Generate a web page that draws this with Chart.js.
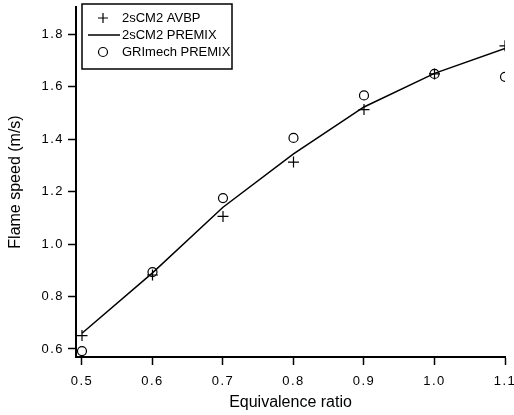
<!DOCTYPE html>
<html>
<head>
<meta charset="utf-8">
<script src="https://cdn.jsdelivr.net/npm/chart.js@4/dist/chart.umd.min.js"></script>
<style>
  html, body { margin: 0; padding: 0; background: #fff; }
  #wrap { width: 514px; height: 415px; }
</style>
</head>
<body>
<div id="wrap"><canvas id="flameChart"></canvas></div>
<script>
const equivRatio = [0.5, 0.6, 0.7, 0.8, 0.9, 1.0, 1.1];
const avbpSpeed = [0.651, 0.882, 1.105, 1.312, 1.512, 1.648, 1.755];
const premixSpeed = [0.66, 0.89, 1.14, 1.343, 1.522, 1.65, 1.745];
const grimechSpeed = [0.592, 0.893, 1.175, 1.404, 1.566, 1.648, 1.637];
const xTicks = [0.5, 0.6, 0.7, 0.8, 0.9, 1.0, 1.1];
const yTicks = [0.6, 0.8, 1.0, 1.2, 1.4, 1.6, 1.8];
const seriesLabels = ['2sCM2 AVBP', '2sCM2 PREMIX', 'GRImech PREMIX'];

const toPoints = (ys) => equivRatio.map((x, i) => ({ x: x, y: ys[i] }));
const FONT = "'Liberation Sans', Arial, sans-serif";

// the tick numbers of the original are set a bit wide (labels only, not titles)
const wideTicks = {
    id: 'wideTicks',
    beforeDraw: (chart) => {
        Object.values(chart.scales).forEach(s => {
            if (s._wide) return;
            const orig = s.drawLabels;
            s.drawLabels = function (area) {
                this.ctx.letterSpacing = '1.5px';
                orig.call(this, area);
                this.ctx.letterSpacing = '0px';
            };
            s._wide = true;
        });
    }
};

// legend box drawn in the top-left of the plot area
const boxLegend = {
    id: 'boxLegend',
    afterDraw: (chart) => {
        const { ctx, chartArea } = chart;
        const x0 = chartArea.left + 6, y0 = chartArea.top - 3;
        const w = 150, h = 65;
        ctx.save();
        ctx.fillStyle = '#fff';
        ctx.fillRect(x0, y0, w, h);
        ctx.strokeStyle = '#000';
        ctx.lineWidth = 1.5;
        ctx.strokeRect(x0, y0, w, h);
        ctx.font = '13px ' + FONT;
        ctx.fillStyle = '#000';
        ctx.textBaseline = 'middle';
        const rowY = [y0 + 14, y0 + 31, y0 + 48];
        const symX = x0 + 21;
        ctx.lineWidth = 1.2;
        // cross
        ctx.beginPath();
        ctx.moveTo(symX - 5, rowY[0]); ctx.lineTo(symX + 5, rowY[0]);
        ctx.moveTo(symX, rowY[0] - 5); ctx.lineTo(symX, rowY[0] + 5);
        ctx.stroke();
        // line
        ctx.lineWidth = 1.5;
        ctx.beginPath();
        ctx.moveTo(x0 + 6, rowY[1]); ctx.lineTo(x0 + 38, rowY[1]);
        ctx.stroke();
        // circle
        ctx.lineWidth = 1.2;
        ctx.beginPath();
        ctx.arc(symX, rowY[2], 4.5, 0, Math.PI * 2);
        ctx.stroke();
        seriesLabels.forEach((t, i) => ctx.fillText(t, x0 + 40, rowY[i]));
        ctx.restore();
    }
};

const ctx = document.getElementById('flameChart').getContext('2d');
new Chart(ctx, {
    type: 'scatter',
    data: {
        datasets: [
            { label: seriesLabels[0], data: toPoints(avbpSpeed), pointStyle: 'cross', pointRadius: 5.5, pointBorderWidth: 1.2, borderColor: '#000', backgroundColor: '#000', showLine: false, order: 2 },
            { label: seriesLabels[1], data: toPoints(premixSpeed), showLine: true, borderColor: '#000', borderWidth: 1.5, pointRadius: 0, tension: 0, order: 3 },
            { label: seriesLabels[2], data: toPoints(grimechSpeed), pointStyle: 'circle', pointRadius: 4.5, pointBorderWidth: 1.2, borderColor: '#000', backgroundColor: 'rgba(0,0,0,0)', showLine: false, order: 1 }
        ]
    },
    plugins: [wideTicks, boxLegend],
    options: {
        responsive: true, maintainAspectRatio: false, animation: false,
        layout: { padding: { top: 7, right: 9, left: 6, bottom: 0 } },
        scales: {
            x: {
                type: 'linear', min: 0.4915, max: 1.1,
                afterBuildTicks: (s) => { s.ticks = xTicks.map(v => ({ value: v })); },
                afterFit: (s) => { s.height = 58; s.paddingLeft = 0; s.paddingRight = 0; },
                border: { display: true, color: '#000', width: 2 },
                grid: { drawOnChartArea: false, drawTicks: true, tickLength: 8, tickWidth: 1.5, tickColor: '#000' },
                ticks: { color: '#000', padding: 9, maxRotation: 0, font: { family: FONT, size: 13 }, callback: (v) => v.toFixed(1) },
                title: { display: true, text: 'Equivalence ratio', color: '#000', padding: { top: 0, bottom: 3 }, font: { family: FONT, size: 16 } }
            },
            y: {
                type: 'linear', min: 0.5695, max: 1.903,
                afterBuildTicks: (s) => { s.ticks = yTicks.map(v => ({ value: v })); },
                afterFit: (s) => { s.width = 70; s.paddingTop = 0; s.paddingBottom = 0; },
                border: { display: true, color: '#000', width: 2 },
                grid: { drawOnChartArea: false, drawTicks: true, tickLength: 8, tickWidth: 1.5, tickColor: '#000' },
                ticks: { color: '#000', padding: 4, font: { family: FONT, size: 13 }, callback: (v) => v.toFixed(1) },
                title: { display: true, text: 'Flame speed (m/s)', color: '#000', padding: { top: 0, bottom: 0 }, font: { family: FONT, size: 16 } }
            }
        },
        plugins: { legend: { display: false }, tooltip: { enabled: false } }
    }
});
</script>
</body>
</html>
